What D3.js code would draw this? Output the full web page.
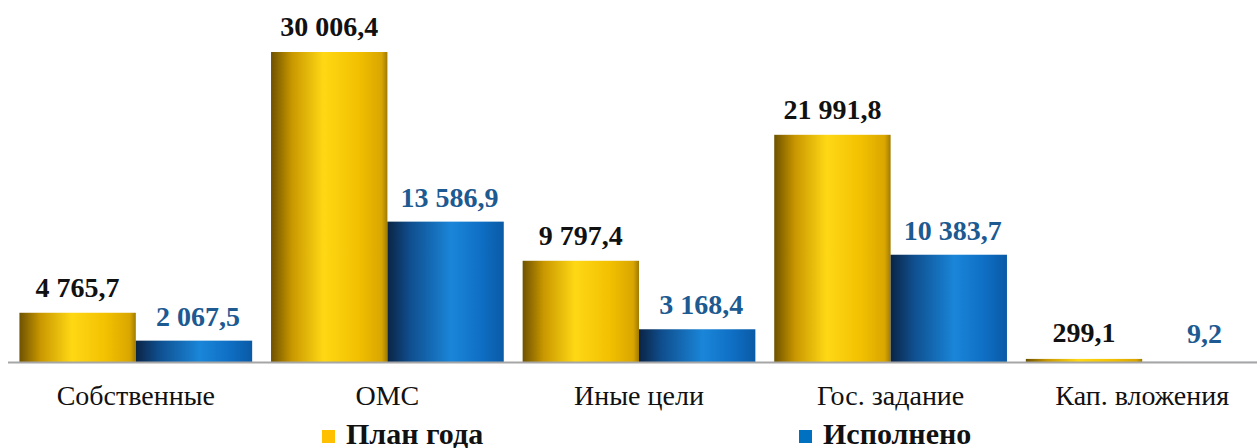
<!DOCTYPE html>
<html>
<head>
<meta charset="utf-8">
<script src="https://cdn.jsdelivr.net/npm/d3@7"></script>
<style>
  body { margin: 0; background: #fff; }
  svg { display: block; }
</style>
</head>
<body>
<div id="chart"></div>
<script>
    var width = 1257,
        height = 448;

    const categories = ["Собственные", "ОМС", "Иные цели", "Гос. задание", "Кап. вложения"];
    const planValues = [4765.7, 30006.4, 9797.4, 21991.8, 299.1];
    const doneValues = [2067.5, 13586.9, 3168.4, 10383.7, 9.2];
    const seriesNames = ["План года", "Исполнено"];

    const FONT = "font-family:'Liberation Serif';";
    const fmt = v => d3.format(",.1f")(v).replace(/,/g, " ").replace(".", ",");

    var svg = d3.select("#chart").append("svg")
        .attr("width", width)
        .attr("height", height);

    // gradients for the cylinder-ish look
    var defs = svg.append("defs");
    var gPlan = defs.append("linearGradient").attr("id", "gPlan");
    [[0, "#6e5200"], [0.18, "#c99700"], [0.45, "#ffd814"], [0.75, "#f2c000"], [0.95, "#d9a600"], [1, "#a07a00"]]
        .forEach(s => gPlan.append("stop").attr("offset", s[0]).attr("stop-color", s[1]));
    var gDone = defs.append("linearGradient").attr("id", "gDone");
    [[0, "#0b2444"], [0.2, "#0f4f8f"], [0.55, "#1a86d9"], [0.8, "#0f6fc4"], [1, "#0a5aa6"]]
        .forEach(s => gDone.append("stop").attr("offset", s[0]).attr("stop-color", s[1]));

    var baseY = 362;
    var x0 = d3.scaleBand().domain(categories).range([10, 1268]).paddingInner(0.075).paddingOuter(0.0375);
    var x1 = d3.scaleBand().domain(seriesNames).range([0, x0.bandwidth()]);
    var y = d3.scaleLinear().domain([0, 30006.4]).range([baseY, 52]);

    var groups = svg.selectAll(".grp")
        .data(categories)
        .enter().append("g")
        .attr("class", "grp")
        .attr("transform", d => "translate(" + x0(d) + ",0)");

    // plan bars
    groups.append("rect")
        .attr("x", x1("План года"))
        .attr("width", x1.bandwidth())
        .attr("y", (d, i) => y(planValues[i]))
        .attr("height", (d, i) => baseY - y(planValues[i]))
        .attr("fill", "url(#gPlan)");

    groups.append("rect")
        .attr("x", x1("Исполнено"))
        .attr("width", x1.bandwidth())
        .attr("y", (d, i) => y(doneValues[i]))
        .attr("height", (d, i) => baseY - y(doneValues[i]))
        .attr("fill", "url(#gDone)");

    groups.append("text")
        .attr("x", x1("План года") + x1.bandwidth() / 2)
        .attr("y", (d, i) => Math.min(y(planValues[i]), baseY - 4) - 16)
        .attr("text-anchor", "middle")
        .attr("style", FONT + "font-weight:bold;font-size:28px")
        .attr("fill", "#111")
        .text((d, i) => fmt(planValues[i]));

    groups.append("text")
        .attr("x", x1("Исполнено") + x1.bandwidth() / 2 + 4)
        .attr("y", (d, i) => Math.min(y(doneValues[i]), baseY - 4) - 15)
        .attr("text-anchor", "middle")
        .attr("style", FONT + "font-weight:bold;font-size:28px")
        .attr("fill", "#1c5a91")
        .text((d, i) => fmt(doneValues[i]));

    // axis line
    svg.append("line")
        .attr("x1", 8).attr("x2", 1257)
        .attr("y1", baseY + 0.5).attr("y2", baseY + 0.5)
        .attr("stroke", "#a6a6a6")
        .attr("stroke-width", 2);

    groups.append("text")
        .attr("x", x0.bandwidth() / 2)
        .attr("y", 405)
        .attr("text-anchor", "middle")
        .attr("style", FONT + "font-size:28px")
        .attr("fill", "#111")
        .text(d => d);

    // legend
    var legendX = [322, 799];
    var legendColors = ["#ffc000", "#0070c0"];
    var legend = svg.selectAll(".leg")
        .data(seriesNames)
        .enter().append("g")
        .attr("transform", (d, i) => "translate(" + legendX[i] + ",0)");
    legend.append("rect")
        .attr("x", 0).attr("y", 430)
        .attr("width", 13).attr("height", 13)
        .attr("fill", (d, i) => legendColors[i]);
    legend.append("text")
        .attr("x", 24).attr("y", 444)
        .attr("style", FONT + "font-weight:bold;font-size:30px")
        .attr("fill", "#111")
        .text(d => d);
</script>
</body>
</html>
